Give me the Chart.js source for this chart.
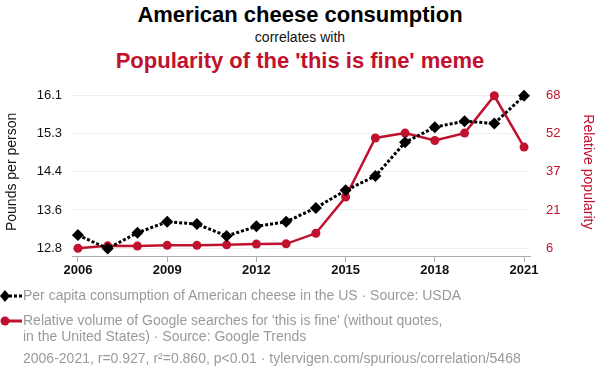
<!DOCTYPE html>
<html>
<head>
<meta charset="utf-8">
<script src="https://cdn.jsdelivr.net/npm/chart.js@4"></script>
<style>
  html, body { margin: 0; padding: 0; background: #fff; }
  body { width: 600px; height: 376px; position: relative; overflow: hidden; font-family: "Liberation Sans", Arial, Helvetica, sans-serif; }
  .t { position: absolute; left: 0; width: 600px; text-align: center; white-space: nowrap; }
  #t1 { top: 2px; font-size: 22px; font-weight: bold; color: #000; }
  #t2 { top: 29px; font-size: 14px; color: #111; }
  #t3 { top: 48px; font-size: 22px; font-weight: bold; color: #c0122e; }
  #wrap { position: absolute; left: 0; top: 70px; width: 600px; height: 218px; }
  .leg { position: absolute; left: 0; width: 600px; font-size: 14px; color: #9a9a9a; line-height: 15.5px; white-space: nowrap; }
  .leg svg { position: absolute; left: 0; top: 1px; }
  .leg span { position: absolute; left: 23px; top: 0; }
  #foot { position: absolute; left: 23px; top: 351px; font-size: 14px; line-height: 15.5px; color: #9a9a9a; white-space: nowrap; }
</style>
</head>
<body>
<div class="t" id="t1">American cheese consumption</div>
<div class="t" id="t2">correlates with</div>
<div class="t" id="t3">Popularity of the 'this is fine' meme</div>
<div id="wrap"><canvas id="chart" width="600" height="218"></canvas></div>

<div class="leg" style="top:288px; height:18px;">
  <svg width="22" height="14"><line x1="4" y1="7" x2="22" y2="7" stroke="#000" stroke-width="3" stroke-dasharray="3,2"/><polygon points="5,1 10,7 5,13 0,7" fill="#000"/></svg>
  <span>Per capita consumption of American cheese in the US · Source: USDA</span>
</div>
<div class="leg" style="top:313px; height:34px;">
  <svg width="22" height="14"><line x1="4" y1="7" x2="22" y2="7" stroke="#c0122e" stroke-width="3"/><circle cx="5" cy="7" r="4.5" fill="#c0122e"/></svg>
  <span>Relative volume of Google searches for 'this is fine' (without quotes,<br>in the United States) · Source: Google Trends</span>
</div>
<div id="foot">2006-2021, r=0.927, r²=0.860, p&lt;0.01 · tylervigen.com/spurious/correlation/5468</div>

<script>
const RED = '#c0122e';

const years = [2006, 2007, 2008, 2009, 2010, 2011, 2012, 2013, 2014, 2015, 2016, 2017, 2018, 2019, 2020, 2021];
const cheese = [13.08, 12.79, 13.13, 13.37, 13.32, 13.06, 13.27, 13.37, 13.67, 14.05, 14.36, 15.09, 15.42, 15.55, 15.5, 16.1];
const meme = [5.9, 6.9, 6.8, 7.1, 7.1, 7.3, 7.6, 7.7, 12, 26.8, 50.8, 52.8, 49.8, 52.8, 68, 47.1];

const xTicks = [2006, 2009, 2012, 2015, 2018, 2021];
const leftTicks = [12.8, 13.625, 14.45, 15.275, 16.1];
const leftLabels = ['12.8', '13.6', '14.4', '15.3', '16.1'];
const rightTicks = [6, 21.5, 37, 52.5, 68];
const rightLabels = ['6', '21', '37', '52', '68'];

const font = { family: '"Liberation Sans", Arial, Helvetica, sans-serif' };

const setTicks = (vals) => (scale) => { scale.ticks = vals.map(v => ({ value: v })); };

new Chart(document.getElementById('chart'), {
  type: 'line',
  data: {
    datasets: [
      {
        label: 'Per capita consumption of American cheese in the US',
        data: years.map((y, i) => ({ x: y, y: cheese[i] })),
        yAxisID: 'y',
        borderColor: '#000',
        backgroundColor: '#000',
        borderWidth: 3,
        borderDash: [3, 2],
        pointStyle: 'rectRot',
        pointRadius: 6,
        pointBorderWidth: 0,
        tension: 0,
      },
      {
        label: "Relative volume of Google searches for 'this is fine'",
        data: years.map((y, i) => ({ x: y, y: meme[i] })),
        yAxisID: 'y1',
        borderColor: RED,
        backgroundColor: RED,
        borderWidth: 2.5,
        pointStyle: 'circle',
        pointRadius: 4.5,
        pointBorderWidth: 0,
        tension: 0,
      },
    ],
  },
  options: {
    responsive: false,
    animation: false,
    layout: { padding: 0 },
    plugins: { legend: { display: false }, tooltip: { enabled: false } },
    scales: {
      x: {
        type: 'linear',
        min: 2005.8,
        max: 2021.2,
        afterBuildTicks: setTicks(xTicks),
        afterFit: s => { s.height = 32; },
        grid: { drawOnChartArea: false, drawTicks: true, tickLength: 6, color: '#aaa' },
        border: { display: true, color: '#aaa', width: 1 },
        ticks: { color: '#111', padding: 1, font: { ...font, size: 13, weight: 'bold' }, callback: v => String(v), maxRotation: 0 },
      },
      y: {
        position: 'left',
        min: 12.6275,
        max: 16.2725,
        afterBuildTicks: setTicks(leftTicks),
        afterFit: s => { s.width = 72; },
        grid: { color: '#efefef', drawTicks: false },
        border: { display: false },
        ticks: { color: '#111', padding: 10, font: { ...font, size: 13 }, callback: (v, i) => leftLabels[i] },
        title: { display: true, text: 'Pounds per person', color: '#111', font: { ...font, size: 14 }, padding: 4 },
      },
      y1: {
        position: 'right',
        min: 2.76,
        max: 71.24,
        afterBuildTicks: setTicks(rightTicks),
        afterFit: s => { s.width = 70; },
        grid: { display: false },
        border: { display: false },
        ticks: { color: RED, padding: 8, font: { ...font, size: 13 }, callback: (v, i) => rightLabels[i] },
        title: { display: true, text: 'Relative popularity', color: RED, font: { ...font, size: 14 }, padding: 4 },
      },
    },
  },
});
</script>
</body>
</html>
